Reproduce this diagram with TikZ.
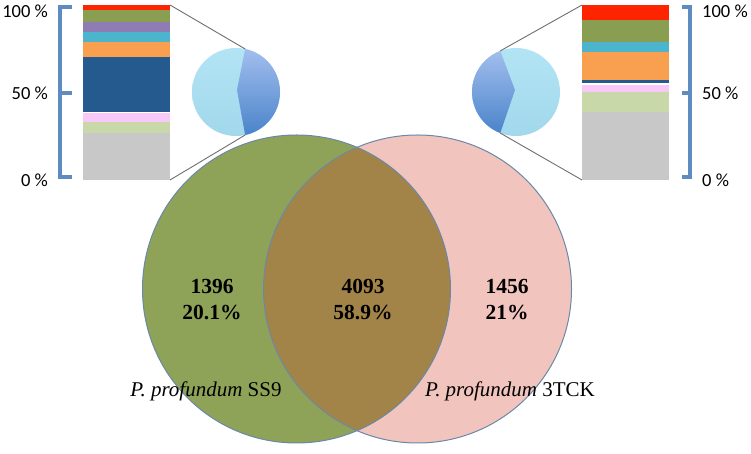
\documentclass[tikz,border=0pt]{standalone}
\usepackage{fontspec}
\setmainfont{Liberation Serif}
\newfontfamily\pctfont{Carlito}
\usetikzlibrary{positioning}

\definecolor{ssgreen}{HTML}{8FA358}
\definecolor{tckpink}{HTML}{F2C4BE}
\definecolor{corebrown}{HTML}{A28448}
\definecolor{vennedge}{HTML}{6A88A8}
\definecolor{brackblue}{HTML}{5E8CC0}
\definecolor{zoomgray}{HTML}{6E6E6E}
\definecolor{barRed}{HTML}{FF2400}
\definecolor{barOlive}{HTML}{8A9E52}
\definecolor{barPurple}{HTML}{8E7CB2}
\definecolor{barCyan}{HTML}{4CB4CC}
\definecolor{barOrange}{HTML}{F9A050}
\definecolor{barNavy}{HTML}{245A8E}
\definecolor{barPink}{HTML}{F8C8F8}
\definecolor{barLime}{HTML}{C8D8A8}
\definecolor{barGray}{HTML}{C8C8C8}
\definecolor{pielight}{HTML}{B2E4F4}
\definecolor{pielightlow}{HTML}{A2D8EC}
\definecolor{piedark}{HTML}{A2BEEE}
\definecolor{piedarklow}{HTML}{4A84CA}

\begin{document}
\begin{tikzpicture}[x=1pt,y=1pt,
  count/.style={font=\bfseries\fontsize{21.5}{26}\selectfont, align=center},
  strain/.style={font=\fontsize{21}{25}\selectfont, anchor=base},
  pct/.style={font=\pctfont\fontsize{18.5}{22}\selectfont, inner sep=0pt},
  zoomline/.style={draw=zoomgray, line width=0.9pt},
  bracket/.style={draw=brackblue, line width=3.5pt},
  venn/.style={draw=vennedge, line width=1pt}]
	\useasboundingbox (0,0) rectangle (751,454);

	% stacked bars
	\foreach \lo/\hi/\col in {274/321/barGray,321/332/barLime,332/341/barPink,
		342/397/barNavy,397/412/barOrange,412/422/barCyan,422/432/barPurple,
		432/444/barOlive,444/449/barRed}
		\fill[\col] (83,\lo) rectangle (170,\hi);
	\foreach \lo/\hi/\col in {274/342/barGray,342/362/barLime,362/369/barPink,
		371/374/barNavy,374/402/barOrange,402/412/barCyan,412/434/barOlive,
		434/449/barRed}
		\fill[\col] (582,\lo) rectangle (669,\hi);
	\coordinate (lbartop) at (170,449);
	\coordinate (lbarbot) at (170,274);
	\coordinate (rbartop) at (582,449);
	\coordinate (rbarbot) at (582,274);

	% brackets and scale
	\coordinate (lb100) at (60,447);
	\coordinate (lb50) at (60,361);
	\coordinate (lb0) at (60,277);
	\coordinate (rb100) at (690,447);
	\coordinate (rb50) at (690,361);
	\coordinate (rb0) at (690,277);
	\draw[bracket] ([xshift=12pt]lb100) -- (lb100) -- (lb0) -- ([xshift=12pt]lb0);
	\draw[bracket] (lb50) -- ([xshift=12pt]lb50);
	\draw[bracket] ([xshift=-8pt]rb100) -- (rb100) -- (rb0) -- ([xshift=-8pt]rb0);
	\draw[bracket] (rb50) -- ([xshift=-8pt]rb50);
	\node[pct, left=12pt of lb100, yshift=-4pt] (l100) {100 \%};
	\node[pct, left=12pt of lb50] (l50) {50 \%};
	\node[pct, left=12pt of lb0, yshift=-3pt] (l0) {0 \%};
	\node[pct, right=12pt of rb100, yshift=-4pt] (r100) {100 \%};
	\node[pct, right=12pt of rb50] (r50) {50 \%};
	\node[pct, right=12pt of rb0, yshift=-3pt] (r0) {0 \%};

	% pies
	\coordinate (lpie) at (236,362);
	\coordinate (rpie) at (516,362);
	\path (lpie) ++(78:44) coordinate (ltop) (lpie) ++(-78:44) coordinate (lbot);
	\path (rpie) ++(111:44) coordinate (rtop) (rpie) ++(249:44) coordinate (rbot);
	\shade[top color=pielight, bottom color=pielightlow] (lpie) circle (44);
	\shade[top color=piedark, bottom color=piedarklow]
		(ltop) arc[start angle=78, end angle=-78, radius=44] -- (237,364) -- cycle;
	\shade[top color=pielight, bottom color=pielightlow] (rpie) circle (44);
	\shade[top color=piedark, bottom color=piedarklow]
		(rtop) arc[start angle=111, end angle=249, radius=44] -- (515,364) -- cycle;

	\draw[zoomline] (lbartop) -- (ltop);
	\draw[zoomline] (lbarbot) -- (lbot);
	\draw[zoomline] (rbartop) -- (rtop);
	\draw[zoomline] (rbarbot) -- (rbot);

	% venn
	\coordinate (ss9) at (296.5,165);
	\coordinate (tck) at (417.5,165);
	\fill[ssgreen] (ss9) circle (154);
	\fill[tckpink] (tck) circle (154);
	\begin{scope}
		\clip (ss9) circle (154);
		\fill[corebrown] (tck) circle (154);
	\end{scope}
	\draw[venn] (ss9) circle (154);
	\draw[venn] (tck) circle (154);

	\node[count] (ss9only) at (212,154) {1396\\20.1\%};
	\node[count] (core) at (363,154) {4093\\58.9\%};
	\node[count] (tckonly) at (507,154) {1456\\21\%};
	\node[strain] (ss9name) at (206,57) {\textit{P. profundum} SS9};
	\node[strain] (tckname) at (510,57) {\textit{P. profundum} 3TCK};
\end{tikzpicture}
\end{document}
